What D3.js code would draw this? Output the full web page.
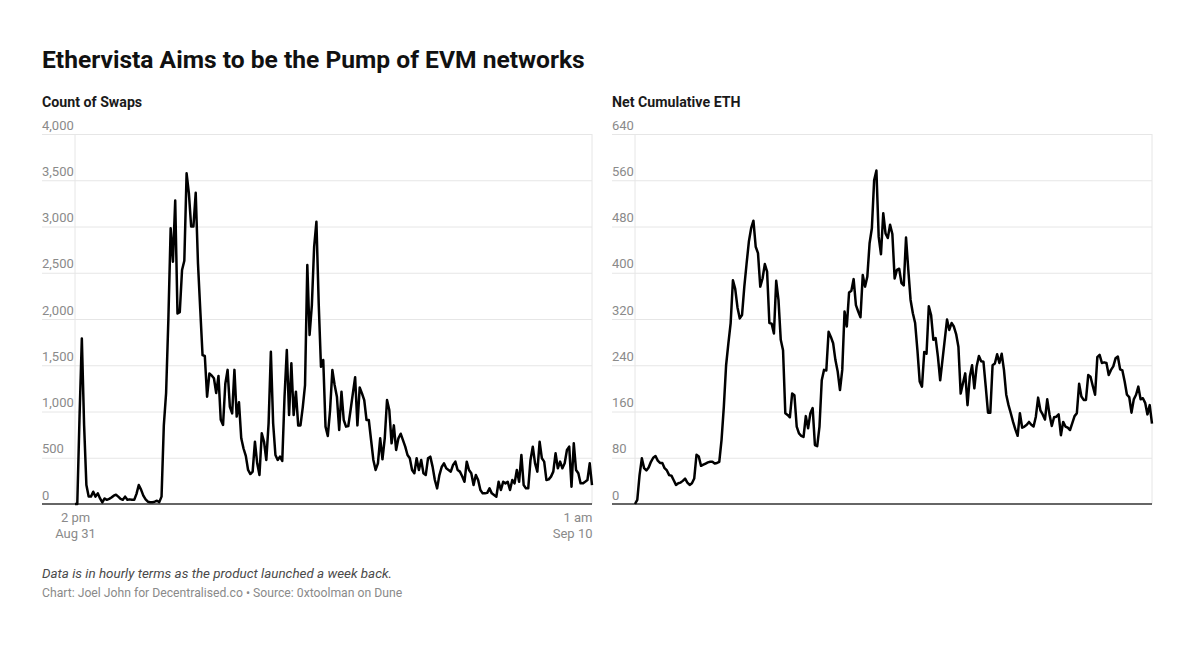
<!DOCTYPE html>
<html>
<head>
<meta charset="utf-8">
<script src="https://cdn.jsdelivr.net/npm/d3@7"></script>
<style>
  html, body { margin: 0; padding: 0; background: #fff; }
  svg { display: block; font-family: Roboto, "Noto Sans", sans-serif; }
</style>
</head>
<body>
<svg id="chart" width="1199" height="666"></svg>
<script>
// ---------------- DATA ----------------
const chartTitle = "Ethervista Aims to be the Pump of EVM networks";
const panelTitles = ["Count of Swaps", "Net Cumulative ETH"];
const noteText = "Data is in hourly terms as the product launched a week back.";
const sourceText = "Chart: Joel John for Decentralised.co • Source: 0xtoolman on Dune";

// hourly series, first hour = Aug 31 2 pm
const startTime = "2024-08-31T14:00:00";
const endTime = "2024-09-10T01:00:00";

const swapCounts = [
  0, 0, 950, 1790, 850, 205, 80, 80, 133, 80,
  115, 60, 17, 60, 45, 55, 70, 90, 100, 80,
  55, 45, 80, 45, 50, 45, 45, 110, 205, 155,
  90, 50, 25, 20, 20, 25, 35, 20, 80, 850,
  1200, 2000, 2980, 2620, 3280, 2060, 2075, 2530, 2630, 3575,
  3360, 3000, 3000, 3365, 2600, 2100, 1610, 1600, 1160, 1410,
  1390, 1360, 1200, 1385, 910, 855, 1300, 1450, 1050, 980,
  1450, 945, 1100, 710, 600, 520, 368, 324, 350, 673,
  440, 313, 764, 673, 476, 872, 1646, 872, 530, 476,
  512, 465, 1160, 1665, 962, 1521, 962, 1214, 850, 850,
  1045, 1286, 2583, 1827, 2151, 2781, 3052, 2170, 1484, 1557,
  836, 735, 1016, 1449, 1286, 1160, 800, 1214, 908, 836,
  843, 1016, 1196, 1370, 850, 1260, 1196, 1124, 908, 908,
  692, 476, 368, 440, 710, 483, 710, 1124, 1016, 656,
  850, 584, 710, 760, 690, 620, 530, 494, 368, 332,
  494, 368, 476, 332, 313, 494, 512, 404, 259, 169,
  313, 400, 440, 386, 368, 350, 422, 458, 368, 350,
  300, 240, 458, 368, 332, 205, 313, 259, 151, 115,
  115, 120, 169, 115, 97, 79, 240, 151, 240, 223,
  240, 151, 259, 223, 368, 240, 530, 205, 169, 169,
  476, 620, 440, 350, 673, 494, 458, 259, 266, 296,
  350, 548, 386, 458, 386, 440, 584, 620, 187, 656,
  368, 332, 223, 223, 240, 259, 440, 205
];

const netCumulativeEth = [
  0, 7, 50, 79, 62, 58, 63, 73, 80, 83,
  75, 71, 71, 62, 58, 50, 49, 41, 33, 36,
  37, 40, 44, 37, 33, 36, 44, 85, 82, 66,
  68, 70, 72, 73, 73, 70, 71, 73, 111, 168,
  240, 278, 313, 387, 372, 340, 321, 327, 376, 416,
  454, 477, 490, 445, 434, 376, 390, 415, 402, 313,
  312, 295, 386, 353, 284, 266, 157, 154, 150, 191,
  188, 134, 122, 118, 116, 152, 131, 157, 166, 102,
  100, 134, 214, 232, 231, 298, 289, 278, 249, 229,
  197, 232, 333, 307, 366, 369, 389, 344, 333, 323,
  396, 376, 393, 451, 477, 560, 577, 462, 432, 503,
  468, 460, 483, 467, 390, 405, 407, 382, 378, 461,
  405, 353, 330, 313, 266, 212, 203, 263, 260, 342,
  327, 284, 287, 255, 214, 249, 284, 319, 301, 313,
  307, 294, 272, 191, 209, 226, 171, 220, 240, 200,
  238, 256, 247, 246, 203, 158, 158, 240, 243, 259,
  244, 260, 232, 189, 171, 157, 142, 129, 118, 157,
  132, 134, 137, 142, 137, 134, 151, 184, 162, 155,
  146, 181, 155, 135, 150, 151, 155, 119, 142, 134,
  132, 128, 140, 152, 157, 208, 186, 180, 180, 223,
  220, 204, 189, 254, 258, 244, 245, 244, 223, 232,
  238, 252, 255, 233, 231, 212, 189, 185, 158, 181,
  189, 203, 181, 183, 175, 155, 171, 139
];

const swapTicks = [0, 500, 1000, 1500, 2000, 2500, 3000, 3500, 4000];
const ethTicks = [0, 80, 160, 240, 320, 400, 480, 560, 640];
const xTickLabels = [["2 pm", "Aug 31"], ["1 am", "Sep 10"]];

// ---------------- LAYOUT ----------------
const svg = d3.select("#chart");
const yTopPx = 134, yBottomPx = 504;

svg.append("text")
  .attr("x", 42).attr("y", 68)
  .attr("font-size", 24.6).attr("font-weight", 700)
  .attr("fill", "#111")
  .text(chartTitle);

const start = new Date(startTime);
const end = new Date(endTime);

function toSeries(values) {
  return values.map((v, i) => ({ date: d3.timeHour.offset(start, i), value: v }));
}

function drawPanel(opts) {
  const g = svg.append("g");
  const x = d3.scaleTime().domain([start, end]).range([opts.plotL, opts.plotR]);
  const y = d3.scaleLinear().domain([0, opts.yMax]).range([yBottomPx, yTopPx]);

  g.append("text")
    .attr("x", opts.labelX).attr("y", 107)
    .attr("font-size", 14.2).attr("font-weight", 700).attr("fill", "#1a1a1a")
    .text(opts.title);

  // gridlines + labels
  const yAxis = d3.axisRight(y)
    .tickValues(opts.ticks)
    .tickSize(opts.plotR - opts.labelX)
    .tickFormat(opts.fmt);
  const ya = g.append("g").attr("transform", `translate(${opts.labelX},0)`).call(yAxis);
  ya.select(".domain").remove();
  ya.selectAll(".tick line").attr("stroke", "#e6e6e6").attr("stroke-width", 1);
  ya.selectAll(".tick text")
    .attr("x", 0).attr("dy", -5).attr("text-anchor", "start")
    .attr("font-size", 13).attr("fill", "#8a8a8a")
    .attr("font-family", "Roboto, sans-serif");
  ya.selectAll(".tick").filter(d => d === 0).select("line").remove();

  // vertical frame lines
  g.append("line")
    .attr("x1", x(start)).attr("x2", x(start))
    .attr("y1", yTopPx).attr("y2", yBottomPx)
    .attr("stroke", "#e6e6e6").attr("stroke-width", 1);
  g.append("line")
    .attr("x1", x(end)).attr("x2", x(end))
    .attr("y1", yTopPx).attr("y2", yBottomPx)
    .attr("stroke", "#e6e6e6").attr("stroke-width", 1);

  // baseline / x axis
  const xAxis = d3.axisBottom(x).tickValues(opts.showX ? [start, end] : []).tickSize(0).tickFormat(() => "");
  const xa = g.append("g").attr("transform", `translate(0,${yBottomPx})`).call(xAxis);
  xa.select(".domain").remove();
  g.append("line")
    .attr("x1", opts.labelX).attr("x2", opts.plotR)
    .attr("y1", yBottomPx).attr("y2", yBottomPx)
    .attr("stroke", "#333").attr("stroke-width", 1.3);

  if (opts.showX) {
    xa.selectAll(".tick").each(function (d, i) {
      const t = d3.select(this).append("text")
        .attr("fill", "#8a8a8a").attr("font-size", 13)
        .attr("font-family", "Roboto, sans-serif")
        .attr("text-anchor", i === 0 ? "middle" : "end");
      xTickLabels[i].forEach((s, k) => {
        t.append("tspan").attr("x", 0).attr("y", 18 + k * 16).text(s);
      });
    });
  }

  const line = d3.line().x(d => x(d.date)).y(d => y(d.value));
  g.append("path")
    .datum(toSeries(opts.values))
    .attr("d", line)
    .attr("fill", "none").attr("stroke", "#000")
    .attr("stroke-width", 2.5).attr("stroke-linejoin", "round");
}

drawPanel({
  title: panelTitles[0], values: swapCounts, ticks: swapTicks, yMax: 4000,
  labelX: 42, plotL: 75, plotR: 592, fmt: d3.format(","), showX: true
});
drawPanel({
  title: panelTitles[1], values: netCumulativeEth, ticks: ethTicks, yMax: 640,
  labelX: 612, plotL: 635, plotR: 1152, fmt: d3.format("d"), showX: false
});

svg.append("text")
  .attr("x", 42).attr("y", 578)
  .attr("font-size", 13.4).attr("font-style", "italic").attr("fill", "#4a4a4a")
  .text(noteText);
svg.append("text")
  .attr("x", 42).attr("y", 597)
  .attr("font-size", 12.2).attr("fill", "#8a8a8a")
  .text(sourceText);
</script>
</body>
</html>
